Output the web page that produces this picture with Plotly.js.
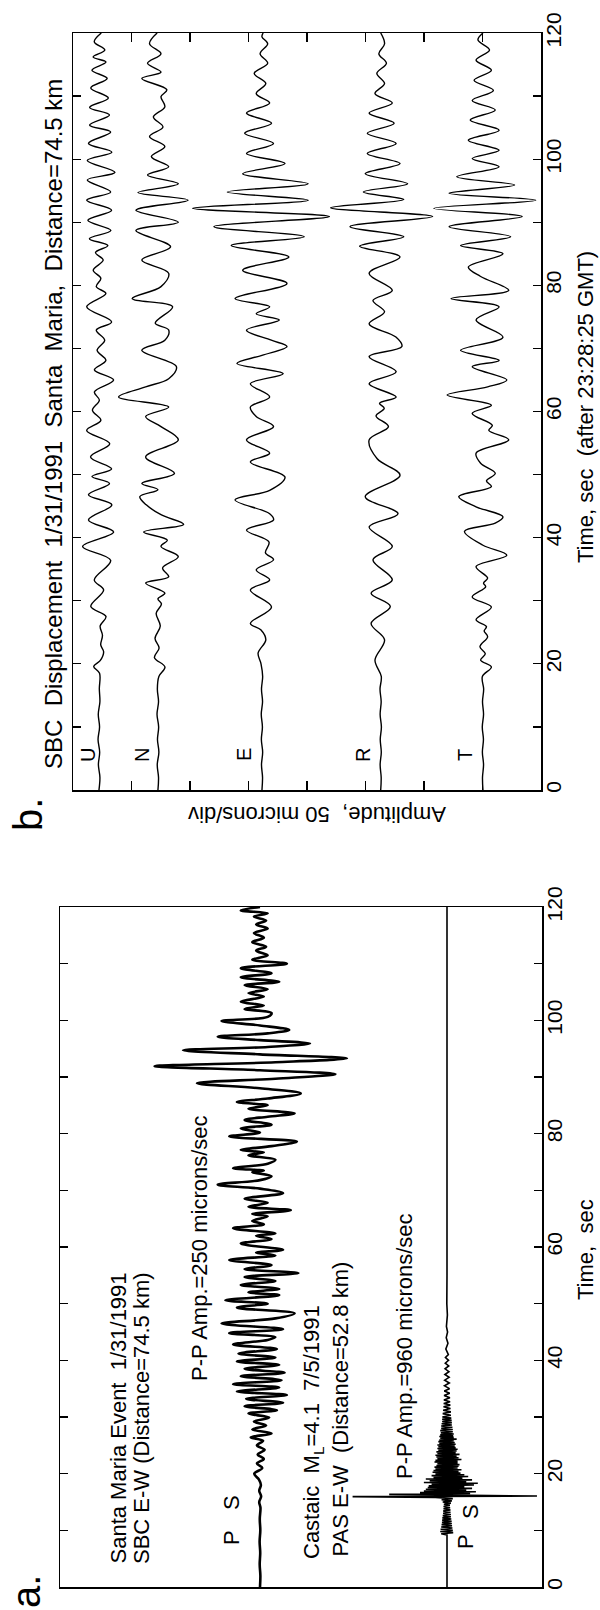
<!DOCTYPE html>
<html>
<head>
<meta charset="utf-8">
<script src="https://cdn.plot.ly/plotly-3.0.1.min.js"></script>
<style>
html,body{margin:0;padding:0;background:#fff;}
#plot{width:600px;height:1610px;}
</style>
</head>
<body>
<div id="plot"></div>
<script>
// ---------------- DATA (time in s, amplitude) ----------------
// Panel b: SBC displacement components, [time s, displacement microns]
const traceU = [[0,0],[2,0.8],[4,-0.5],[6,0.6],[8,-0.8],[10,0.5],[12,-0.6],[14,0.8],[16,0.3],[18.5,0.5],[19.6,-4.5],[20.5,1],[21.9,4],[23,1.5],[24.5,3],[26,1],[27.5,6],[29.1,-7],[31.7,4],[33.3,-4],[36.4,10],[38.6,-14],[40.9,12.5],[42.8,-9],[45.2,11],[46.8,-9],[48.6,9],[49.7,-6],[50.9,10.8],[52.8,-7.2],[54.9,9.2],[57.0,-10.5],[58.6,1.6],[60.2,-5.6],[61.8,0.3],[63.1,-3.9],[65.0,12.5],[66.6,-3.9],[68.1,5.9],[69.7,-1.6],[71.3,4.9],[72.9,-2.3],[74.2,10.8],[76.6,-10.5],[78.7,5.9],[79.8,-2.3],[81.1,1.6],[82.4,-4.9],[84.0,3.6],[85.2,-3],[86.3,7.6],[87.4,-8.2],[88.7,10.2],[90.3,-9.5],[91.9,10.8],[93.5,-10.5],[94.8,10],[96.7,-10],[97.9,13.7],[99.8,-10],[101.1,11],[102.5,-9],[104.3,10],[105.4,-8],[107.0,9],[108.2,-8],[109.7,8],[111.3,-7],[112.8,7],[114.1,-6],[115.4,6],[116.2,-5],[117.3,5],[118.6,-4],[120,2]];
const traceN = [[0,0],[2,0.5],[4,-0.6],[6,0.8],[8,-0.4],[10,0.6],[12,-0.8],[14,0.5],[16,-0.5],[18,0.8],[19.5,6],[21,-3],[22.5,1],[24,-2.5],[26,2],[28,-1.5],[29.5,3],[30.3,0],[31.2,5.9],[32.8,-10.5],[33.8,9.2],[35.2,4],[37.0,17.4],[38.6,2.6],[39.6,8],[40.9,-12.2],[42.1,22],[43.6,3],[45.2,-10],[46.5,-15.5],[47.6,0],[48.6,-13.8],[50.2,14.1],[52.8,-10.5],[55.5,17.4],[57.6,2.6],[59.2,-10.5],[60.7,9.2],[62.3,-33.6],[63.9,-10.5],[65.2,9.2],[67.1,15.8],[69.7,-13.8],[71.3,5.9],[72.9,9.2],[74.0,-2.3],[76.6,12.5],[77.9,-22],[79.8,2.6],[81.9,9.2],[84.0,-13.8],[86.1,10.8],[88.7,-18.8],[90.0,17.4],[91.9,-18.8],[93.5,25.7],[94.7,-17.1],[96.1,17.4],[97.5,-8.9],[98.8,9.2],[100.4,-5.6],[102.0,5.9],[103.6,-7.2],[105.1,4.3],[106.7,-3.9],[108.3,5.9],[109.9,2.6],[111.0,7.6],[112.8,-13.8],[113.8,2.6],[115.2,-8.9],[116.7,2.6],[118.3,-7.2],[120,-0.7]];
const traceE = [[0,0],[2,0.5],[4,-0.4],[6,0.6],[8,-0.5],[10,0.4],[12,-0.6],[14,0.5],[16,-0.4],[18,0.6],[20,-0.8],[21.7,-3.3],[23.8,3.3],[25.4,-1],[26.4,-9.9],[29.0,8.2],[31.7,-9.9],[33.3,6.6],[34.9,-4.9],[36.5,9.9],[37.6,3],[39.3,6],[41.2,-13.2],[42.8,9.9],[43.8,6.6],[46.0,-23],[47.5,6.6],[49.6,19.7],[52.0,-9.9],[53.4,6.6],[55.5,-13.2],[57.6,9.9],[59.2,-4.9],[60.7,-9.9],[62.3,6.6],[64.4,-9.9],[66.0,18.1],[67.6,-21.4],[68.9,0],[70.3,21.4],[71.3,8],[72.9,-13.2],[74.5,14.8],[75.5,-4.9],[76.6,6.6],[77.9,-23],[80.3,21.4],[82.4,-16.5],[84.5,23],[86.3,-26.3],[87.7,36.2],[89.3,-41.1],[90.9,57.6],[92.2,-59.2],[93.5,39.5],[94.8,-29.6],[96.1,39.5],[97.7,-16.5],[99.3,19.7],[100.9,-13.2],[102.5,9.9],[104.1,-14.8],[105.7,8.2],[107.3,-13.2],[108.9,6.6],[110.4,-4.9],[112.0,3.3],[113.6,-6.6],[115.2,4.9],[116.7,-1.6],[118.3,4.9],[119.4,0],[120,1]];
const traceR = [[0,0],[2,0.4],[4,-0.5],[6,0.5],[8,-0.4],[10,0.6],[12,-0.5],[14,0.4],[16,-0.6],[18,0.5],[20.6,-4.9],[23.8,3.3],[26.4,-8.2],[29.1,8.2],[31.2,-8.2],[33.3,9.9],[36.5,-6.6],[38.6,9.9],[41.7,-9.9],[43.8,14.8],[46.5,-13.2],[49.9,16.5],[52.5,-3],[55.5,-9.9],[57.6,6.6],[59.3,-4],[60.5,3],[61.3,-1],[62.3,13.2],[64.4,-9.9],[66.3,13.2],[68.7,-9.9],[70.3,18.1],[71.8,13],[73.9,-9.9],[75.8,3.3],[77.6,-6.6],[79.2,9.9],[81.9,-9.9],[84.5,16.5],[86.2,-18],[87.7,19.7],[89.3,-26.3],[90.9,44.4],[92.3,-42.8],[93.6,19.7],[94.8,-14.8],[96.1,23],[97.7,-13.2],[99.3,16.5],[100.9,-11.5],[102.5,13.2],[104.1,-11.5],[105.7,11.5],[107.3,-9.9],[108.9,9.9],[110.4,-4.9],[112.0,3.3],[113.6,-3.3],[115.2,4.9],[116.7,-1.6],[118.3,3.3],[120,0]];
const traceT = [[0,0],[2,-0.4],[4,0.5],[6,-0.5],[8,0.4],[10,-0.6],[12,0.5],[14,-0.4],[16,0.6],[18,-0.5],[19.5,7.2],[20.6,-2],[21.6,2],[22.7,-2.6],[24.3,4],[25.2,1],[25.9,3],[27.0,-5.9],[29.0,7.2],[30.6,-9.2],[32.2,2.3],[32.8,0.5],[33.6,4],[35.4,-5.9],[37.2,20.4],[38.8,0],[41.0,-15.8],[42.3,10.5],[43.3,17.1],[44.9,-5.9],[46.5,-20.7],[48.1,7.2],[49.0,3],[50.2,10.5],[51.8,-2],[53.4,-5.9],[55.5,22],[57.0,5],[57.8,8],[59.7,-9.2],[61.0,7.2],[62.6,-30.6],[63.9,4],[65.0,20.4],[67.1,-9.2],[68.1,13.8],[69.7,-19.1],[71.8,17.1],[74.5,-5.9],[76.6,13.8],[77.9,-27.3],[79.2,22],[81.4,-2],[82.9,-12.5],[85.0,17.1],[86.3,-19.1],[87.7,23.7],[89.3,-29],[90.9,33.6],[92.2,-42.1],[93.5,45.1],[94.6,-29],[95.9,27],[97.2,-22.4],[98.8,13.8],[100.1,-9.2],[101.4,13.8],[103.0,-12.5],[104.6,13.8],[106.2,-10.9],[107.8,10.5],[109.3,-9.2],[110.9,8.9],[112.5,-7.6],[114.1,7.2],[115.7,-5.9],[117.3,5.6],[118.9,-4.3],[120,0]];
const componentLabels = ['U','N','E','R','T'];

// Panel a: velocity records, [time s, velocity microns/sec]
const santaMariaEW = [[0,0],[2,0.5],[4,-0.4],[6,0.3],[8,-0.5],[10,0.4],[12,-0.3],[14,0.6],[15,-1],[16,1.5],[17,-1],[18,1.2],[19,-1.5],[20,-7.5],[21,3],[21.8,-4],[22.6,5],[23.4,-3],[24.2,6],[25,-4],[25.8,4],[26.4,-12],[27.1,15],[27.8,-10],[28.5,8],[29.2,-8],[29.9,12],[30.6,-15],[31.2,22],[31.9,-20],[32.5,30],[33.2,-18],[33.9,35],[34.5,-30],[35.2,25],[35.8,-35],[36.5,28],[37.2,-25],[37.8,32],[38.5,-20],[39.2,25],[39.8,-30],[40.5,20],[41.2,-28],[42.0,22],[42.8,-35],[43.6,10],[44.1,20],[44.8,-40],[45.5,30],[46.5,-50],[47.4,20],[48.3,45],[49.3,-30],[50.0,10],[50.6,-45],[51.5,25],[52.0,-15],[52.6,25],[53.3,-25],[54.0,20],[54.7,-20],[55.4,50],[56.1,-20],[56.8,15],[57.7,-40],[58.5,20],[59.0,-5],[59.5,30],[60.6,-25],[61.4,15],[62.0,-5],[62.4,20],[63.3,-35],[64.0,5],[64.6,-10],[65.4,10],[65.8,-10],[66.5,40],[67.1,-15],[67.8,10],[68.5,-20],[69.5,30],[70.3,0],[71.0,-55],[71.8,0],[72.5,15],[73.2,-10],[73.5,5],[73.9,-35],[74.7,10],[75.4,20],[76.2,-15],[76.7,5],[77.1,-25],[77.8,15],[78.6,48],[79.5,-40],[80.2,0],[80.9,-25],[81.6,15],[82.4,-20],[83.0,10],[83.6,45],[84.4,-15],[85.0,10],[85.6,-30],[86.2,10],[87.1,53],[88.0,0],[88.9,-82],[89.7,20],[90.5,98],[91.2,0],[91.9,-137],[92.6,20],[93.3,113],[94.0,0],[94.7,-100],[95.3,10],[95.9,65],[96.5,0],[97.1,-55],[97.7,10],[98.3,38],[99.1,0],[99.9,-50],[100.6,10],[101.3,15],[102.0,-20],[102.6,5],[103.3,-25],[104.2,5],[104.8,-15],[105.5,10],[106.2,-20],[106.8,25],[107.6,-25],[108.3,15],[109.2,-25],[110.0,35],[110.7,-10],[111.5,10],[112.3,-5],[113.0,8],[113.8,-10],[114.6,5],[115.4,-8],[116.2,10],[116.9,-5],[117.6,8],[118.3,-8],[118.9,10],[119.4,-25],[120,0]];
const castaicEW = [[0,0],[9.2,0],[9.4,-30],[9.6,32],[9.8,-35],[10.0,30],[10.2,-33],[10.4,28],[10.6,-30],[10.8,26],[11.0,-28],[11.2,25],[11.4,-26],[11.6,24],[11.8,-25],[12.0,22],[12.2,-24],[12.4,20],[12.6,-22],[12.8,20],[13.0,-20],[13.2,18],[13.4,-20],[13.6,18],[13.8,-18],[14.0,16],[14.2,-18],[14.4,15],[14.6,-16],[14.8,20],[15.0,-22],[15.2,25],[15.4,-28],[15.6,30],[15.8,-60],[15.95,-490],[16.05,467],[16.2,-150],[16.35,-300],[16.5,120],[16.65,-140],[16.8,150],[16.95,-120],[17.1,100],[17.25,-110],[17.4,130],[17.55,-100],[17.7,90],[17.85,-95],[18.0,140],[18.15,-80],[18.3,160],[18.45,-120],[18.6,100],[18.75,-90],[18.9,130],[19.05,-110],[19.2,80],[19.35,-70],[19.5,110],[19.65,-80],[19.8,90],[19.95,-60],[20.1,70],[20.25,-75],[20.4,60],[20.55,-70],[20.7,75],[20.85,-60],[21.0,55],[21.15,-65],[21.3,60],[21.45,-55],[21.6,65],[21.75,-50],[21.9,55],[22.05,-65],[22.2,55],[22.35,-60],[22.5,75],[22.65,-50],[22.8,60],[22.95,-55],[23.1,50],[23.25,-60],[23.4,65],[23.55,-50],[23.7,45],[23.85,-55],[24.0,50],[24.15,-45],[24.3,55],[24.45,-50],[24.6,45],[24.75,-45],[24.9,40],[25.05,-50],[25.2,45],[25.35,-40],[25.5,40],[25.65,-45],[25.8,35],[25.95,-40],[26.1,50],[26.25,-35],[26.4,35],[26.55,-40],[26.7,32],[26.85,-35],[27.0,35],[27.2,-32],[27.4,30],[27.6,-35],[27.8,30],[28.0,-30],[28.2,28],[28.4,-30],[28.6,25],[28.8,-28],[29.0,25],[29.2,-25],[29.4,24],[29.6,-25],[29.8,22],[30.0,-24],[30.3,20],[30.6,-22],[30.9,20],[31.2,-20],[31.5,18],[31.8,-18],[32.1,17],[32.4,-17],[32.7,16],[33.0,-16],[33.4,15],[33.8,-15],[34.2,14],[34.6,-14],[35.0,13],[35.5,-13],[36.0,12],[36.5,-12],[37.0,11],[37.5,-11],[38,10],[38.5,-10],[39,9],[39.5,-9],[40,8],[40.5,-8],[41,7],[42,-6],[43,5],[44,-4],[45,3],[46,-3],[48,2],[50,-1],[55,0],[120,0]];

const timeLabelStep = 20;   // labelled time ticks (s)
const timeMinorStep = 10;   // unlabelled time ticks (s)
const ampTicksB = [50,100,150,200,250,300,350];

// ---------------- LAYOUT HELPERS ----------------
const W = 600, H = 1610;
const FONT = 'Liberation Sans, Arial, Helvetica, sans-serif';
const px = v => v / W;
const py = v => 1 - v / H;
const NB = '\u00a0';

// panel b: amplitude axis in microns (8 div x 50), traces offset
const offsetsB = [22.2, 72.6, 161.5, 263, 350.4];
const tracesB = [traceU, traceN, traceE, traceR, traceT];

function lineTrace(pairs, base, gain, xa, ya, width, shape) {
  return {
    x: pairs.map(p => base + gain * p[1]),
    y: pairs.map(p => p[0]),
    xaxis: xa, yaxis: ya, mode: 'lines', hoverinfo: 'skip', showlegend: false,
    line: {color: '#000', width: width, shape: shape, smoothing: 1}
  };
}

const data = [];
tracesB.forEach((tr, i) => data.push(lineTrace(tr, offsetsB[i], 1, 'x', 'y', 1.4, 'spline')));
// panel a: horizontal axis in plot px units; separate display gains per record
data.push(lineTrace(santaMariaEW, 200, 1 / 1.3, 'x2', 'y2', 2.6, 'spline'));
data.push(lineTrace(castaicEW, 387, 1 / 5.19, 'x2', 'y2', 1.6, 'linear'));

function ann(text, x, y, size, angle, xa, ya) {
  return {text: text, x: px(x), y: py(y), xref: 'paper', yref: 'paper',
    xanchor: xa || 'center', yanchor: ya || 'middle', textangle: angle,
    showarrow: false, font: {family: FONT, size: size, color: '#000'}, borderpad: 0};
}

const annotations = [
  ann('SBC' + NB + NB + 'Displacement' + NB + NB + '1/31/1991' + NB + NB + 'Santa' + NB + NB + 'Maria,' + NB + NB + 'Distance=74.5 km', 53, 770, 24, -90, 'center', 'bottom'),
  ann('Time,' + NB + 'sec' + NB + NB + '(after' + NB + '23:28:25' + NB + 'GMT)', 585, 407, 22, -90),
  ann('Amplitude,' + NB + NB + '50' + NB + 'microns/div', 317, 815, 22, 180),
  ann('b.', 28, 815, 40, -90),
  ann('a.', 26, 1592, 40, -90),
  ann('Santa Maria Event' + NB + NB + '1/31/1991', 118, 1565, 22, -90, 'center', 'bottom'),
  ann('SBC E-W (Distance=74.5 km)', 141, 1565, 22, -90, 'center', 'bottom'),
  ann('P', 231, 1538, 22, -90),
  ann('S', 231, 1503, 22, -90),
  ann('P-P Amp.=250 microns/sec', 199, 1382, 22, -90, 'center', 'bottom'),
  ann('Castaic' + NB + NB + 'M<sub>L</sub>=4.1' + NB + NB + '7/5/1991', 313, 1560, 22, -90, 'center', 'bottom'),
  ann('PAS E-W' + NB + NB + '(Distance=52.8 km)', 340, 1558, 22, -90, 'center', 'bottom'),
  ann('P-P Amp.=960 microns/sec', 404, 1480, 22, -90, 'center', 'bottom'),
  ann('P', 465, 1542, 22, -90),
  ann('S', 470, 1512, 22, -90),
  ann('Time,' + NB + NB + 'sec', 585, 1250, 22, -90)
];
const labelX = [88, 142, 244, 363, 465];
componentLabels.forEach((c, i) => annotations.push(ann(c, labelX[i], 755, 20, -90)));

const axLine = {showline: true, linecolor: '#000', linewidth: 1.5, showgrid: false, zeroline: false, fixedrange: true};
const timeAxis = Object.assign({}, axLine, {
  range: [0, 120], side: 'right', mirror: 'ticks', ticks: 'inside', ticklen: 8, tickwidth: 1.2,
  tickcolor: '#000', tickmode: 'linear', tick0: 0, dtick: timeLabelStep, tickangle: -90,
  minor: {dtick: timeMinorStep, ticks: 'inside', ticklen: 8, tickwidth: 1.2, tickcolor: '#000', showgrid: false},
  tickfont: {family: FONT, size: 21, color: '#000'}, ticklabelstandoff: -7
});

const layout = {
  width: W, height: H, margin: {l: 0, r: 0, t: 0, b: 0},
  paper_bgcolor: '#fff', plot_bgcolor: '#fff', showlegend: false,
  font: {family: FONT, color: '#000'},
  xaxis: Object.assign({}, axLine, {domain: [px(73), px(541)], range: [0, 400], anchor: 'y',
    mirror: 'ticks', ticks: 'inside', ticklen: 9, tickwidth: 1.2, tickcolor: '#000',
    tickmode: 'array', tickvals: ampTicksB, showticklabels: false}),
  yaxis: Object.assign({}, timeAxis, {domain: [py(790), py(33)], anchor: 'x'}),
  xaxis2: Object.assign({}, axLine, {domain: [px(60), px(542)], range: [0, 482], anchor: 'y2',
    mirror: true, ticks: '', showticklabels: false}),
  yaxis2: Object.assign({}, timeAxis, {domain: [py(1587), py(907)], anchor: 'x2'}),
  annotations: annotations
};

Plotly.newPlot('plot', data, layout, {staticPlot: true, displayModeBar: false});
</script>
</body>
</html>
